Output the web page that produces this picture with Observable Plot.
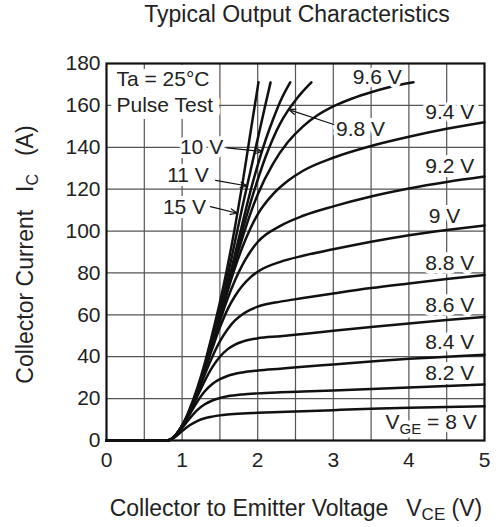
<!DOCTYPE html>
<html><head><meta charset="utf-8">
<script src="https://cdn.jsdelivr.net/npm/d3@7"></script>
<script src="https://cdn.jsdelivr.net/npm/@observablehq/plot@0.6"></script>
<style>body{margin:0;background:#fff}</style>
</head><body><div id="chart"></div>
<script>
const FONT = "'Liberation Sans', Arial, Helvetica, sans-serif";

// Tick values
const xTicks = [0, 1, 2, 3, 4, 5];
const xGrid = [0.5, 1, 1.5, 2, 2.5, 3, 3.5, 4, 4.5];
const yTicks = [0, 20, 40, 60, 80, 100, 120, 140, 160, 180];

// V_GE = 8 ... 9.4 V (saturating within the 0-5 V window)
const vce80 = [0, 0.8, 0.9, 1.0, 1.1, 1.2, 1.3, 1.4, 1.5, 1.6, 1.8, 2.0, 2.3, 2.6, 3.0, 3.5, 4.0, 4.5, 5.0];
const ic80  = [0, 0, 1.5, 4.5, 7.3, 9.3, 10.6, 11.4, 12.0, 12.4, 12.9, 13.2, 13.6, 14.0, 14.5, 15.1, 15.6, 16.0, 16.4];
const vce82 = [0, 0.8, 0.9, 1.0, 1.1, 1.2, 1.3, 1.4, 1.5, 1.6, 1.8, 2.0, 2.3, 2.6, 3.0, 3.5, 4.0, 4.5, 5.0];
const ic82  = [0, 0, 2, 6, 10.5, 14.5, 17.3, 19.1, 20.3, 21.1, 22.0, 22.5, 23.0, 23.4, 23.9, 24.6, 25.3, 26.0, 26.7];
const vce84 = [0, 0.8, 0.9, 1.0, 1.1, 1.2, 1.3, 1.4, 1.5, 1.6, 1.8, 2.0, 2.3, 2.6, 3.0, 3.5, 4.0, 4.5, 5.0];
const ic84  = [0, 0, 2, 6.5, 12.5, 18.5, 23.5, 27.0, 29.3, 30.8, 32.5, 33.4, 34.3, 35.2, 36.3, 37.7, 39.0, 40.0, 41];
const vce86 = [0, 0.8, 0.9, 1.0, 1.1, 1.2, 1.3, 1.4, 1.5, 1.6, 1.7, 1.8, 2.0, 2.3, 2.6, 3.0, 3.5, 4.0, 4.5, 5.0];
const ic86  = [0, 0, 2, 7, 13.5, 21, 28.5, 35, 40, 43.5, 45.8, 47.2, 48.8, 49.8, 50.9, 52.4, 54.2, 55.9, 57.5, 59];
const vce88 = [0, 0.8, 0.9, 1.0, 1.1, 1.2, 1.3, 1.4, 1.5, 1.6, 1.7, 1.8, 1.9, 2.0, 2.3, 2.6, 3.0, 3.5, 4.0, 4.5, 5.0];
const ic88  = [0, 0, 2, 7, 14, 22.5, 31.5, 40, 47.3, 53, 57.3, 60.3, 62.4, 63.9, 66.3, 68.0, 70.2, 72.8, 75.0, 77.1, 79];
const vce90 = [0, 0.8, 0.9, 1.0, 1.1, 1.2, 1.3, 1.4, 1.5, 1.6, 1.7, 1.8, 1.9, 2.0, 2.3, 2.6, 3.0, 3.5, 4.0, 4.5, 5.0];
const ic90  = [0, 0, 2, 7, 14, 23, 33.5, 44, 54, 62.5, 69, 74, 77.8, 80.6, 85.3, 88.2, 91.3, 94.9, 98, 100.5, 102.7];
const vce92 = [0, 0.8, 0.9, 1.0, 1.1, 1.2, 1.3, 1.4, 1.5, 1.6, 1.7, 1.8, 1.9, 2.0, 2.3, 2.6, 3.0, 3.5, 4.0, 4.5, 5.0];
const ic92  = [0, 0, 2, 7, 14, 23, 34, 45.5, 57, 67.5, 76.5, 84, 90, 94.8, 102.5, 107.3, 111.8, 116.5, 120.3, 123.4, 126];
const vce94 = [0, 0.8, 0.9, 1.0, 1.1, 1.2, 1.3, 1.4, 1.5, 1.6, 1.7, 1.8, 1.9, 2.0, 2.2, 2.4, 2.6, 3.0, 3.5, 4.0, 4.5, 5.0];
const ic94  = [0, 0, 2, 7, 14, 23, 34, 46, 58.5, 71, 82.5, 92.5, 101, 108, 117.5, 124, 128.8, 135, 140.6, 145, 148.8, 152];

// V_GE = 9.6 ... 15 V (each trace ends near 171 A)
const vce96 = [0, 0.8, 0.9, 1.0, 1.1, 1.2, 1.3, 1.4, 1.5, 1.6, 1.7, 1.8, 1.9, 2.0, 2.2, 2.4, 2.6, 2.8, 3.0, 3.25, 3.5, 3.75, 4.06];
const ic96  = [0, 0, 2, 7, 14, 23, 34, 46, 59, 72, 85, 97, 108, 117.5, 132, 142.5, 150, 155.5, 159.5, 163.3, 166.3, 168.8, 171];
const vce98 = [0, 0.8, 0.9, 1.0, 1.1, 1.2, 1.3, 1.4, 1.5, 1.6, 1.7, 1.8, 1.9, 2.0, 2.1, 2.2, 2.3, 2.4, 2.5, 2.6, 2.71];
const ic98  = [0, 0, 2, 7, 14, 23, 34, 46, 59, 73, 87, 100.5, 113, 124.5, 135, 144, 151.5, 157.5, 162.5, 166.8, 171];
const vce10 = [0, 0.8, 0.9, 1.0, 1.1, 1.2, 1.3, 1.4, 1.5, 1.6, 1.7, 1.8, 1.9, 2.0, 2.1, 2.2, 2.3, 2.43];
const ic10  = [0, 0, 2, 7, 14, 23.5, 34.5, 47, 60, 74, 89, 104, 118.5, 131.5, 143, 153, 162, 171];
const vce11 = [0, 0.8, 0.9, 1.0, 1.1, 1.2, 1.3, 1.4, 1.5, 1.6, 1.7, 1.8, 1.9, 2.0, 2.1, 2.17];
const ic11  = [0, 0, 2, 7, 14.5, 24, 35.5, 48, 62, 78, 95, 112, 128, 144, 160, 171];
const vce15 = [0, 0.8, 0.9, 1.0, 1.1, 1.2, 1.3, 1.4, 1.5, 1.6, 1.7, 1.8, 1.9, 2.01];
const ic15  = [0, 0, 2, 7, 15, 25, 37, 51, 66, 83, 102, 123, 146, 171];

// Curve labels
const labelText = ["9.6 V", "9.8 V", "9.4 V", "9.2 V", "9 V", "8.8 V", "8.6 V", "8.4 V", "8.2 V"];
const labelX = [3.58, 3.36, 4.54, 4.54, 4.47, 4.54, 4.54, 4.54, 4.54];
const labelY = [173.6, 148.5, 156.6, 130.8, 106.9, 84.8, 64.7, 47.0, 32.2];

// Labels with leader arrows
const arrowText = ["10 V", "11 V", "15 V"];
const arrowTextX = [1.257, 1.078, 1.032];
const arrowTextY = [140.2, 126.6, 111.5];
const arrowX1 = [1.595, 1.442, 1.376, 3.007];
const arrowY1 = [139.7, 124.2, 111.7, 150.9];
const arrowX2 = [2.06, 1.861, 1.729, 2.411];
const arrowY2 = [138.0, 121.5, 108.5, 158.0];

const noteText = ["Ta = 25°C", "Pulse Test"];
const noteX = [0.132, 0.132];
const noteY = [172.4, 160.0];

const vgeLabelX = 4.30, vgeLabelY = 9.1;

const toPts = (xs, ys) => xs.map((x, i) => ({x, y: ys[i]}));
const curves = [
  toPts(vce80, ic80), toPts(vce82, ic82), toPts(vce84, ic84), toPts(vce86, ic86),
  toPts(vce88, ic88), toPts(vce90, ic90), toPts(vce92, ic92), toPts(vce94, ic94),
  toPts(vce96, ic96), toPts(vce98, ic98), toPts(vce10, ic10), toPts(vce11, ic11), toPts(vce15, ic15)
];

const labels = labelText.map((t, i) => ({t, x: labelX[i], y: labelY[i]}));
const aLabels = arrowText.map((t, i) => ({t, x: arrowTextX[i], y: arrowTextY[i]}));
const arrows = arrowX1.map((x1, i) => ({x1, y1: arrowY1[i], x2: arrowX2[i], y2: arrowY2[i]}));
const notes = noteText.map((t, i) => ({t, x: noteX[i], y: noteY[i]}));

const halo = {stroke: "white", strokeWidth: 8, fill: "#222", fontSize: 21};

const plot = Plot.plot({
  width: 502, height: 527,
  marginLeft: 106, marginRight: 18, marginTop: 63, marginBottom: 87,
  style: {fontFamily: FONT, background: "white"},
  x: {domain: [0, 5]},
  y: {domain: [0, 180]},
  marks: [
    Plot.ruleX(xGrid, {stroke: "#555", strokeWidth: 1.2}),
    Plot.ruleY(yTicks, {stroke: "#555", strokeWidth: 1.2}),
    ...curves.map(c => Plot.line(c, {x: "x", y: "y", stroke: "#111", strokeWidth: 2.5, curve: "monotone-x"})),
    Plot.text(labels, {x: "x", y: "y", text: "t", ...halo}),
    Plot.text(aLabels, {x: "x", y: "y", text: "t", ...halo}),
    Plot.text(notes, {x: "x", y: "y", text: "t", textAnchor: "start", ...halo, strokeWidth: 14}),
    Plot.arrow(arrows, {x1: "x1", y1: "y1", x2: "x2", y2: "y2", stroke: "#111", strokeWidth: 1.2, headLength: 9, headAngle: 45}),
    Plot.frame({stroke: "#111", strokeWidth: 2.2}),
    Plot.axisX(xTicks, {tickSize: 0, tickPadding: 12, fontSize: 21, fill: "#222", label: null}),
    Plot.axisY(yTicks, {tickSize: 0, tickPadding: 6, fontSize: 21, fill: "#222", label: null})
  ]
});

const xs = plot.scale("x"), ys = plot.scale("y");
const svg = d3.select(plot);
const g = svg.append("g").attr("font-family", FONT).attr("fill", "#222");

// V_GE = 8 V label with subscript
const vt = g.append("text")
  .attr("x", xs.apply(vgeLabelX)).attr("y", ys.apply(vgeLabelY)).attr("dy", "0.36em")
  .attr("text-anchor", "middle").attr("font-size", 21)
  .attr("stroke", "white").attr("stroke-width", 8).attr("paint-order", "stroke").attr("stroke-linejoin", "round");
vt.append("tspan").text("V");
vt.append("tspan").attr("font-size", 15).attr("dy", 5).text("GE");
vt.append("tspan").attr("dy", -5).text(" = 8 V");

const [x0, x1] = xs.range;
const [y0, y1] = ys.range;

// Title
g.append("text").attr("x", (x0 + x1) / 2 + 2).attr("y", 22).attr("text-anchor", "middle")
  .attr("font-size", 23).text("Typical Output Characteristics");

// X axis title
const xt = g.append("text").attr("x", (x0 + x1) / 2 + 1).attr("y", 516).attr("text-anchor", "middle").attr("font-size", 23);
xt.append("tspan").text("Collector to Emitter Voltage\u2002 V");
xt.append("tspan").attr("font-size", 17).attr("dy", 4).text("CE");
xt.append("tspan").attr("dy", -4).text(" (V)");

// Y axis title
const yt = g.append("text").attr("transform", `translate(33,${(y0 + y1) / 2 + 3}) rotate(-90)`)
  .attr("text-anchor", "middle").attr("font-size", 23);
yt.append("tspan").text("Collector Current\u2002 I");
yt.append("tspan").attr("font-size", 16).attr("dy", 5).text("C");
yt.append("tspan").attr("dy", -5).text("\u2002 (A)");

document.getElementById("chart").appendChild(plot);
</script>
</body></html>
